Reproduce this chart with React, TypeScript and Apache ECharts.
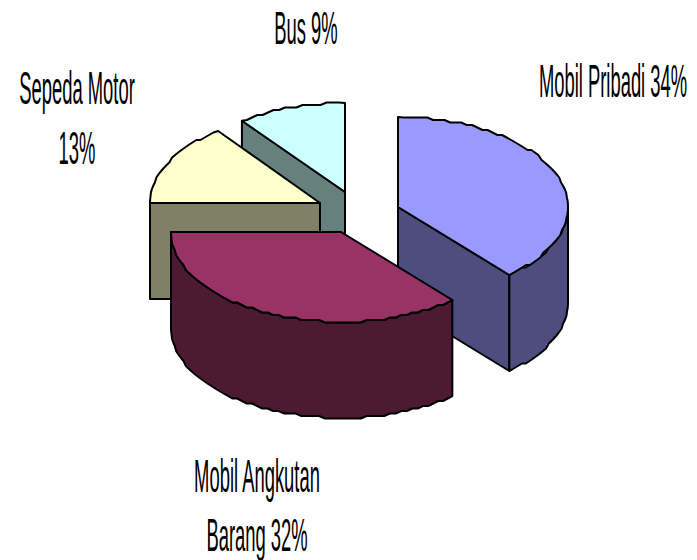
import React, { useEffect, useRef } from "react";
import * as echarts from "echarts";

const categories = ["Mobil Pribadi", "Mobil Angkutan Barang", "Sepeda Motor", "Bus"];
const values = [34, 32, 13, 9];
const labelLines = [["Mobil Pribadi 34%"], ["Mobil Angkutan", "Barang 32%"], ["Sepeda Motor", "13%"], ["Bus 9%"]];

// layout and style, per slice
const centers = [[398, 207], [341, 232], [320, 203], [345, 192]];
const radiiX = [170, 170, 170, 172];
const radiiY = [90, 90, 90, 89];
const topColors = ["#9999FF", "#993366", "#FFFFCC", "#CCFFFF"];
const sideColors = ["#4D4D80", "#4D1A33", "#808066", "#668080"];
const labelPos = [[[613, 81]], [[257, 476], [257, 535]], [[77, 88], [77, 148]], [[306, 28]]];
const drawOrder = [3, 2, 0, 1];
const DEPTH = 96;

const total = values.reduce((a, b) => a + b, 0);
const starts: number[] = [];
values.reduce((acc, v, i) => { starts[i] = (acc / total) * 360; return acc + v; }, 0);

function arcPoints(i: number, a0: number, a1: number, dy = 0) {
  const [cx, cy] = centers[i];
  const pts: number[][] = [];
  const n = Math.max(1, Math.round(Math.abs(a1 - a0) / 2));
  for (let k = 0; k <= n; k++) {
    const a = ((a0 + ((a1 - a0) * k) / n) * Math.PI) / 180;
    const x = cx + radiiX[i] * Math.sin(a);
    const y = cy - radiiY[i] * Math.cos(a);
    const ends = k === 0 || k === n;
    pts.push([x, (ends ? y : Math.round(y / 2.5) * 2.5) + dy]);
  }
  return pts;
}

const stroke = { stroke: "#000", lineWidth: 2, lineJoin: "round" };

function renderItem(_p: any, api: any) {
  const i = api.value(0) as number;
  const share = (api.value(1) as number) / total;
  const a0 = starts[i];
  const a1 = a0 + share * 360;
  const [cx, cy] = centers[i];
  const children: any[] = [];
  const poly = (points: number[][], fill: string) =>
    children.push({ type: "polygon", shape: { points }, style: { ...stroke, fill } });

  // flat cut wall, seen where the cut faces the viewer
  const cutAngle = a0 >= 270 ? a0 : a1 < 180 ? a1 : null;
  if (cutAngle !== null) {
    const e = arcPoints(i, cutAngle, cutAngle)[0];
    poly([[cx, cy], e, [e[0], e[1] + DEPTH], [cx, cy + DEPTH]], sideColors[i]);
  }
  // outer wall: the front half of the rim only
  const w0 = Math.max(a0, 90);
  const w1 = Math.min(a1, 270);
  if (w1 > w0) {
    const top = arcPoints(i, w0, w1);
    const bottom = arcPoints(i, w1, w0, DEPTH);
    poly([...top, ...bottom], sideColors[i]);
  }
  // top face
  poly([[cx, cy], ...arcPoints(i, a0, a1)], topColors[i]);
  return { type: "group", children };
}

export default function App() {
  const ref = useRef<HTMLDivElement>(null);
  useEffect(() => {
    const chart = echarts.init(ref.current!, null, { renderer: "svg" });
    const graphic = labelLines.flatMap((lines, i) =>
      lines.map((text, j) => ({
        type: "text",
        x: labelPos[i][j][0],
        y: labelPos[i][j][1],
        scaleX: 0.4,
        style: {
          text,
          fontFamily: "'Liberation Sans', Arial, sans-serif",
          fontSize: 46,
          fill: "#000",
          align: "center",
          verticalAlign: "middle",
        },
      }))
    );
    chart.setOption({
      animation: false,
      backgroundColor: "#fff",
      tooltip: { show: false },
      graphic,
      series: [
        {
          type: "custom",
          coordinateSystem: "none",
          silent: true,
          renderItem,
          data: drawOrder.map((i) => ({ name: categories[i], value: [i, values[i]] })),
        },
      ],
    });
    return () => chart.dispose();
  }, []);
  return <div ref={ref} style={{ position: "absolute", left: 0, top: 0, width: 697, height: 560 }} />;
}
